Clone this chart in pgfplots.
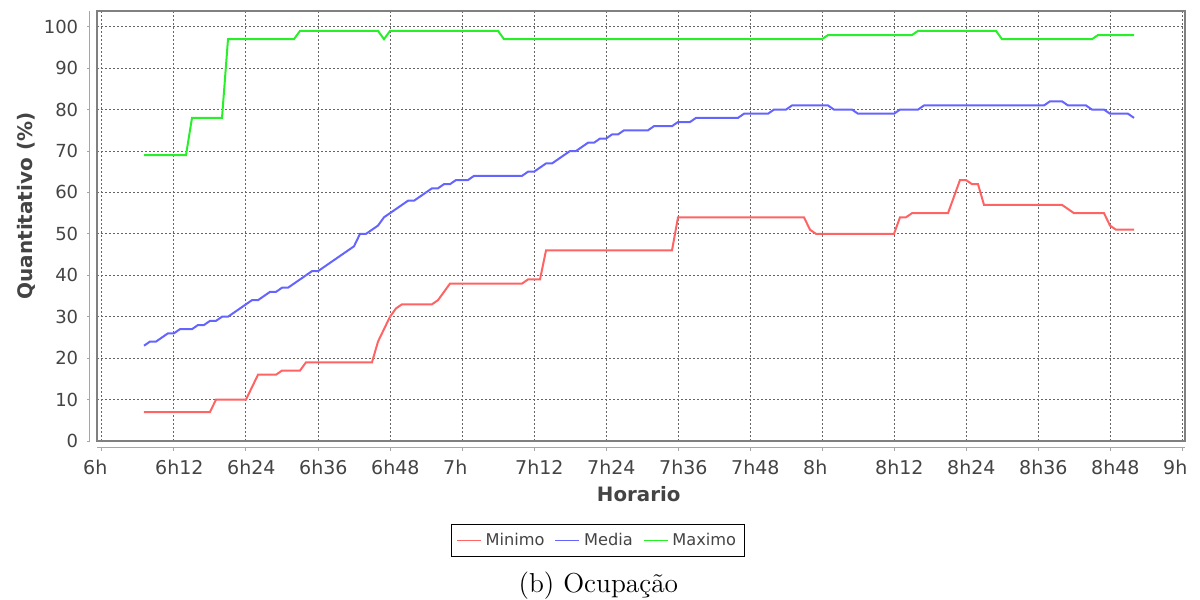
\documentclass[border=0pt]{standalone}
\usepackage{fontspec}
\usepackage{pgfplots}
\pgfplotsset{compat=1.18}
\newfontfamily\dejavu{DejaVu Sans}
\definecolor{cmin}{RGB}{255,100,100}
\definecolor{cmed}{RGB}{100,100,255}
\definecolor{cmax}{RGB}{40,240,40}
\definecolor{txt}{RGB}{68,68,68}

\pgfplotstableread{
t v
7 7
18 7
19 10
24 10
25 13
26 16
29 16
30 17
33 17
34 19
45 19
46 24
47 27
48 30
49 32
50 33
55 33
56 34
57 36
58 38
70 38
71 39
73 39
74 46
95 46
96 54
117 54
118 51
119 50
132 50
133 54
134 54
135 55
141 55
142 59
143 63
144 63
145 62
146 62
147 57
160 57
161 56
162 55
167 55
168 52
169 51
172 51
}\minimo

\pgfplotstableread{
t v
7 23
8 24
9 24
10 25
11 26
12 26
13 27
15 27
16 28
17 28
18 29
19 29
20 30
21 30
22 31
23 32
24 33
25 34
26 34
27 35
28 36
29 36
30 37
31 37
32 38
33 39
34 40
35 41
36 41
37 42
38 43
39 44
40 45
41 46
42 47
43 50
44 50
45 51
46 52
47 54
48 55
49 56
50 57
51 58
52 58
53 59
54 60
55 61
56 61
57 62
58 62
59 63
61 63
62 64
70 64
71 65
72 65
73 66
74 67
75 67
76 68
77 69
78 70
79 70
80 71
81 72
82 72
83 73
84 73
85 74
86 74
87 75
91 75
92 76
95 76
96 77
98 77
99 78
106 78
107 79
111 79
112 80
114 80
115 81
121 81
122 80
125 80
126 79
132 79
133 80
136 80
137 81
157 81
158 82
160 82
161 81
164 81
165 80
167 80
168 79
171 79
172 78
}\media

\pgfplotstableread{
t v
7 69
14 69
15 78
20 78
21 97
32 97
33 99
46 99
47 97
48 99
66 99
67 97
120 97
121 98
135 98
136 99
149 99
150 97
165 97
166 98
172 98
}\maximo

\begin{document}
\begin{tikzpicture}
\begin{axis}[
  at={(48.5pt,79.5pt)}, anchor=south west,
  scale only axis, width=544pt, height=215pt,
  xmin=-0.833, xmax=180.5, ymin=0, ymax=103.8,
  xtick={0,12,...,180},
  xticklabels={6h,6h12,6h24,6h36,6h48,7h,7h12,7h24,7h36,7h48,8h,8h12,8h24,8h36,8h48,9h},
  ytick={0,10,...,100},
  grid=major,
  major grid style={black!60, line width=0.5pt, dash pattern=on 1pt off 1pt},
  axis line style={black!50, line width=0.6pt},
  major tick length=0pt,
  /pgf/number format/assume math mode=true,
  xticklabel style={font=\dejavu\fontsize{9.5}{11}\selectfont, text=txt, anchor=north west, inner sep=0pt, xshift=-9.6pt, yshift=-9.2pt},
  yticklabel style={font=\dejavu\fontsize{9}{11}\selectfont, text=txt, anchor=east, inner sep=0pt, xshift=-9.2pt},
  xlabel={Horario}, ylabel={Quantitativo (\%)},
  xlabel style={at={(axis description cs:0.4979,-0.1233)}, anchor=center, font=\dejavu\bfseries\fontsize{9.9}{12}\selectfont, text=txt},
  ylabel style={at={(axis description cs:-0.06526,0.5465)}, anchor=center, font=\dejavu\bfseries\fontsize{10}{12}\selectfont, text=txt},
  legend style={at={(axis description cs:0.4605,-0.2314)}, anchor=center, legend columns=3, draw=black, line width=0.5pt, font=\dejavu\fontsize{8.1}{10}\selectfont, text=txt, inner xsep=2pt, inner ysep=2pt, /tikz/every even column/.append style={column sep=3pt}},
  legend image code/.code={\draw[#1, line width=0.8pt] (0pt,0pt) -- (12pt,0pt);},
  after end axis/.code={
    \draw[black!35, line width=0.5pt] ([xshift=-3.7pt]rel axis cs:0,0) -- ([xshift=-3.7pt]rel axis cs:0,1);
    \draw[black!35, line width=0.5pt] ([yshift=-3.35pt]rel axis cs:0,0) -- ([yshift=-3.35pt]rel axis cs:1,0);
    \foreach \v in {0,10,...,100} {\draw[black!35, line width=0.5pt] ([xshift=-3.7pt]axis cs:-0.833,\v) -- ++(-1.5pt,0);}
    \foreach \s in {0,12,...,180} {\draw[black!35, line width=0.5pt] ([yshift=-3.35pt]axis cs:\s,0) -- ++(0,-1.5pt);}
  },
]
\addplot[cmin, line width=1pt] table[x=t, y=v] {\minimo};
\addlegendentry{Minimo}
\addplot[cmed, line width=1pt] table[x=t, y=v] {\media};
\addlegendentry{Media}
\addplot[cmax, line width=1pt] table[x=t, y=v] {\maximo};
\addlegendentry{Maximo}
\end{axis}
\node[anchor=center, font=\fontsize{13.7}{16}\selectfont] at (299.2pt,7pt) {(b) Ocupação};
\pgfresetboundingbox
\useasboundingbox (0,0) rectangle (600pt,300pt);
\end{tikzpicture}
\end{document}
